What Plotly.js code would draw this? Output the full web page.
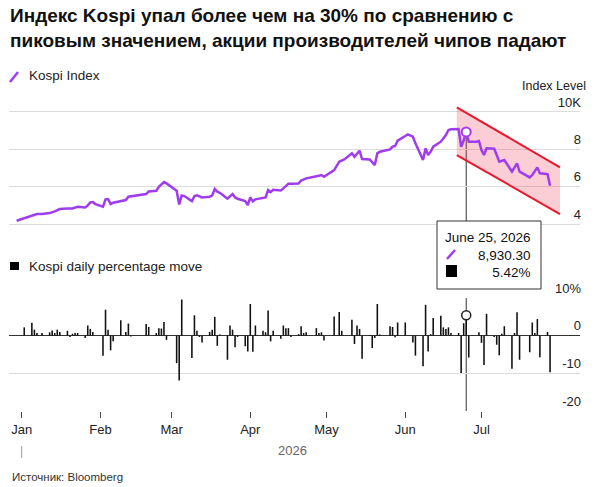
<!DOCTYPE html>
<html>
<head>
<meta charset="utf-8">
<script src="https://cdn.plot.ly/plotly-3.0.1.min.js"></script>
<style>
  body { margin: 0; background: #fff; }
  #chart { width: 614px; height: 487px; }
</style>
</head>
<body>
<div id="chart"></div>
<script>
// Kospi index level
const kospiDates = [
  '2025-12-30', '2026-01-02', '2026-01-06', '2026-01-07', '2026-01-09', '2026-01-12', '2026-01-14', '2026-01-16',
  '2026-01-19', '2026-01-21', '2026-01-23', '2026-01-26', '2026-01-27', '2026-01-28', '2026-01-29', '2026-01-30',
  '2026-02-02', '2026-02-03', '2026-02-04', '2026-02-05', '2026-02-06', '2026-02-09', '2026-02-11', '2026-02-12',
  '2026-02-13', '2026-02-19', '2026-02-20', '2026-02-23', '2026-02-24', '2026-02-25', '2026-02-26', '2026-02-27',
  '2026-03-03', '2026-03-04', '2026-03-05', '2026-03-06', '2026-03-09', '2026-03-10', '2026-03-11', '2026-03-13',
  '2026-03-16', '2026-03-17', '2026-03-18', '2026-03-19', '2026-03-20', '2026-03-23', '2026-03-24', '2026-03-25',
  '2026-03-26', '2026-03-27', '2026-03-30', '2026-03-31', '2026-04-01', '2026-04-02', '2026-04-03', '2026-04-07',
  '2026-04-08', '2026-04-09', '2026-04-10', '2026-04-13', '2026-04-14', '2026-04-15', '2026-04-16', '2026-04-17',
  '2026-04-20', '2026-04-21', '2026-04-23', '2026-04-28', '2026-04-29', '2026-04-30', '2026-05-04', '2026-05-06',
  '2026-05-08', '2026-05-11', '2026-05-12', '2026-05-14', '2026-05-15', '2026-05-18', '2026-05-19', '2026-05-20',
  '2026-05-21', '2026-05-22', '2026-05-26', '2026-05-27', '2026-05-28', '2026-05-29', '2026-06-01', '2026-06-02',
  '2026-06-04', '2026-06-05', '2026-06-08', '2026-06-09', '2026-06-10', '2026-06-11', '2026-06-12', '2026-06-15',
  '2026-06-17', '2026-06-18', '2026-06-19', '2026-06-22', '2026-06-23', '2026-06-24', '2026-06-25', '2026-06-26',
  '2026-06-29', '2026-06-30', '2026-07-01', '2026-07-02', '2026-07-03', '2026-07-06', '2026-07-07', '2026-07-08',
  '2026-07-10', '2026-07-13', '2026-07-15', '2026-07-16', '2026-07-20', '2026-07-21', '2026-07-23', '2026-07-24',
  '2026-07-27', '2026-07-28'
];
const kospiValues = [
  4174, 4299, 4478, 4531, 4531, 4585, 4674, 4799,
  4835, 4835, 4925, 4889, 4996, 5157, 5175, 5067,
  4925, 5318, 5335, 5067, 5139, 5246, 5282, 5461,
  5479, 5604, 5746, 5782, 5997, 6100, 6247, 6175,
  5782, 5050, 5532, 5496, 5228, 5496, 5532, 5425,
  5461, 5532, 5871, 5729, 5675, 5354, 5496, 5604,
  5425, 5354, 5228, 5014, 5425, 5211, 5318, 5425,
  5818, 5711, 5836, 5800, 5907, 6030, 6158, 6158,
  6175, 6330, 6443, 6586, 6622, 6533, 6890, 7337,
  7462, 7784, 7605, 7927, 7480, 7460, 7300, 7158,
  7784, 7873, 7998, 8141, 8177, 8463, 8713, 8802,
  8677, 8320, 7426, 8052, 7694, 7873, 8141, 8409,
  8767, 9035, 9070, 9088, 8141, 8470, 8930.30, 8409,
  8409, 8445, 7962, 7694, 8052, 8034, 7694, 7337,
  7426, 6801, 7248, 6801, 6497, 6622, 7033, 6712,
  6676, 6050
];

// Kospi daily percentage move
const moveDates = [
  '2026-01-02', '2026-01-05', '2026-01-06', '2026-01-07', '2026-01-09', '2026-01-12', '2026-01-13', '2026-01-14',
  '2026-01-15', '2026-01-16', '2026-01-19', '2026-01-20', '2026-01-21', '2026-01-22', '2026-01-23', '2026-01-26',
  '2026-01-27', '2026-01-28', '2026-01-29', '2026-02-02', '2026-02-03', '2026-02-04', '2026-02-05', '2026-02-06',
  '2026-02-09', '2026-02-11', '2026-02-12', '2026-02-13', '2026-02-19', '2026-02-20', '2026-02-23', '2026-02-24',
  '2026-02-25', '2026-02-26', '2026-02-27', '2026-03-03', '2026-03-04', '2026-03-05', '2026-03-09', '2026-03-10',
  '2026-03-11', '2026-03-12', '2026-03-13', '2026-03-16', '2026-03-17', '2026-03-18', '2026-03-19', '2026-03-20',
  '2026-03-23', '2026-03-24', '2026-03-25', '2026-03-26', '2026-03-27', '2026-03-30', '2026-03-31', '2026-04-01',
  '2026-04-02', '2026-04-03', '2026-04-06', '2026-04-07', '2026-04-08', '2026-04-09', '2026-04-10', '2026-04-13',
  '2026-04-14', '2026-04-15', '2026-04-16', '2026-04-17', '2026-04-20', '2026-04-21', '2026-04-22', '2026-04-23',
  '2026-04-27', '2026-04-28', '2026-04-29', '2026-04-30', '2026-05-04', '2026-05-06', '2026-05-07', '2026-05-11',
  '2026-05-12', '2026-05-13', '2026-05-14', '2026-05-15', '2026-05-18', '2026-05-19', '2026-05-20', '2026-05-21',
  '2026-05-22', '2026-05-26', '2026-05-27', '2026-05-28', '2026-05-29', '2026-06-01', '2026-06-04', '2026-06-05',
  '2026-06-08', '2026-06-09', '2026-06-10', '2026-06-11', '2026-06-12', '2026-06-15', '2026-06-16', '2026-06-17',
  '2026-06-18', '2026-06-19', '2026-06-22', '2026-06-23', '2026-06-24', '2026-06-25', '2026-06-26', '2026-06-30',
  '2026-07-01', '2026-07-02', '2026-07-03', '2026-07-06', '2026-07-07', '2026-07-08', '2026-07-09', '2026-07-10',
  '2026-07-13', '2026-07-14', '2026-07-15', '2026-07-16', '2026-07-20', '2026-07-21', '2026-07-22', '2026-07-23',
  '2026-07-24', '2026-07-27', '2026-07-28'
];
const moveValues = [
  2.2, 3.4, 1.6, 0.7, 0.7, 0.9, 1.4, 0.7,
  1.6, 1.0, 1.3, -0.35, 0.5, 0.7, 0.7, -0.6,
  2.7, 1.8, 1.0, -5.3, 6.9, 1.6, -3.9, -1.5,
  4.1, 1.0, 3.2, -0.2, 3.1, 2.3, 0.7, 2.0,
  1.9, 3.6, -1.1, -7.3, -11.9, 9.6, -5.9, 5.4,
  1.3, -0.35, -1.8, 1.0, 1.6, 5.0, -2.7, 0.3,
  -6.4, 2.7, 1.6, -3.1, -0.35, -2.8, -4.2, 8.4,
  -4.3, 2.7, 1.3, 0.9, 6.7, -1.5, 1.3, -0.8,
  2.7, 2.0, 2.0, -0.35, 0.4, 2.5, 0.7, 0.9,
  2.0, 0.7, 0.9, -1.3, 5.1, 6.3, 1.3, 4.2,
  -2.2, 2.7, 1.8, -6.1, 0.2, -3.3, -0.6, 8.4,
  0.3, 2.5, 2.3, -0.4, 3.5, 3.5, -1.8, -5.3,
  -8.1, 8.2, -4.2, 0.4, 4.7, 5.3, 2.2, 1.8,
  2.2, 0.7, 0.7, -9.9, 3.3, 5.42, -5.8, 0.9,
  -1.9, -7.8, 5.8, -0.35, -2.4, -5.2, 0.5, 2.5,
  -8.8, 0.7, 6.2, -6.4, -4.4, 3.5, 0.7, 4.4,
  -5.7, 1.0, -9.7
];

// falling channel drawn over the recent slide
const channelDates = ['2026-06-21 07:00', '2026-07-31 22:00'];
const channelUpper = [10252, 7036];
const channelLower = [7695, 4533];

// highlighted day
const hoverDate = '2026-06-25';
const hoverLabel = 'June 25, 2026';
const hoverLevel = 8930.30;
const hoverMove = 5.42;

const monthTicks = ['2026-01-01', '2026-02-01', '2026-03-01', '2026-04-01', '2026-05-01', '2026-06-01', '2026-07-01'];
const monthLabels = ['Jan', 'Feb', 'Mar', 'Apr', 'May', 'Jun', 'Jul'];
const levelTicks = [4000, 6000, 8000, 10000];
const levelLabels = ['4', '6', '8', '10K'];
const moveTicks = [-20, -10, 0, 10];
const moveLabels = ['-20', '-10', '0', '10%'];

const FONT = 'Liberation Sans, Arial, sans-serif';
const PURPLE = '#a03cf0';
const RED = '#e8192c';

// pixel -> paper helpers (figure 614x487, margins l=9 r=34 t=0 b=0)
const W = 614, H = 487, ML = 9, MR = 34;
function px(x) { return (x - ML) / (W - ML - MR); }
function py(y) { return 1 - y / H; }

const traces = [
  {
    x: channelDates, y: channelLower, xaxis: 'x2', yaxis: 'y',
    type: 'scatter', mode: 'lines', line: { color: RED, width: 2 }
  },
  {
    x: channelDates, y: channelUpper, xaxis: 'x2', yaxis: 'y',
    type: 'scatter', mode: 'lines', line: { color: RED, width: 2 },
    fill: 'tonexty', fillcolor: 'rgba(240,60,90,0.25)'
  },
  {
    x: kospiDates, y: kospiValues, xaxis: 'x2', yaxis: 'y',
    type: 'scatter', mode: 'lines', line: { color: PURPLE, width: 2.5 }
  },
  {
    x: [hoverDate], y: [hoverLevel], xaxis: 'x2', yaxis: 'y',
    type: 'scatter', mode: 'markers',
    marker: { size: 9, color: '#fff', line: { color: PURPLE, width: 2 } }
  },
  {
    x: moveDates, y: moveValues, xaxis: 'x', yaxis: 'y2',
    type: 'bar', marker: { color: '#111' }, width: 0.62 * 864e5
  },
  {
    x: [hoverDate], y: [hoverMove], xaxis: 'x', yaxis: 'y2',
    type: 'scatter', mode: 'markers',
    marker: { size: 9, color: '#fff', line: { color: '#222', width: 1.5 } }
  }
];

const xRange = ['2025-12-27', '2026-08-08 19:00'];

const layout = {
  width: W, height: H,
  margin: { l: ML, r: MR, t: 0, b: 0 },
  paper_bgcolor: '#fff', plot_bgcolor: 'rgba(0,0,0,0)',
  showlegend: false,
  font: { family: FONT, color: '#222', size: 13 },
  title: {
    text: 'Индекс Kospi упал более чем на 30% по сравнению с<br>пиковым значением, акции производителей чипов падают',
    font: { family: FONT, size: 19, color: '#111', weight: 'bold' },
    xref: 'container', x: 10 / W, xanchor: 'left',
    yref: 'container', y: 1 - 22 / H, yanchor: 'top'
  },
  xaxis: {
    type: 'date', anchor: 'y2', range: xRange,
    tickvals: monthTicks, ticktext: monthLabels,
    ticks: 'outside', ticklen: 6, tickcolor: '#444', tickwidth: 1,
    tickfont: { size: 13, color: '#222' },
    showgrid: false, zeroline: false, showline: false
  },
  xaxis2: {
    type: 'date', anchor: 'y', matches: 'x',
    showticklabels: false, ticks: '', showgrid: false, zeroline: false, showline: false
  },
  yaxis: {
    domain: [py(229), py(106)], range: [3732, 10321], anchor: 'x2', side: 'right',
    tickvals: levelTicks, ticktext: levelLabels,
    ticklabelposition: 'inside', ticklabelshift: -10, ticklabelstandoff: -4, ticklabeloverflow: 'allow',
    ticks: '', gridcolor: '#dcdcdc', gridwidth: 1, zeroline: false, showline: false,
    tickfont: { size: 13, color: '#222' }
  },
  yaxis2: {
    domain: [py(411), py(298)], range: [-20, 10], anchor: 'x', side: 'right',
    tickvals: moveTicks, ticktext: moveLabels,
    ticklabelposition: 'inside', ticklabelshift: -10, ticklabelstandoff: -4, ticklabeloverflow: 'allow',
    ticks: '', gridcolor: '#dcdcdc', gridwidth: 1,
    zeroline: true, zerolinecolor: '#333', zerolinewidth: 1, showline: false,
    tickfont: { size: 13, color: '#222' }
  },
  shapes: [
    // crosshair through the highlighted day
    { type: 'line', layer: 'below', xref: 'x2', yref: 'y', x0: hoverDate, x1: hoverDate, y0: hoverLevel, y1: 3732,
      line: { color: '#333', width: 1 } },
    { type: 'line', layer: 'below', xref: 'x', yref: 'y2 domain', x0: hoverDate, x1: hoverDate, y0: 0, y1: 1,
      line: { color: '#333', width: 1 } },
    // tooltip box and its keys
    { type: 'rect', xref: 'paper', yref: 'paper', x0: px(437), x1: px(541), y0: py(289), y1: py(221),
      fillcolor: '#fff', line: { color: '#333', width: 1 } },
    { type: 'line', xref: 'paper', yref: 'paper', x0: px(447), x1: px(455), y0: py(259), y1: py(250),
      line: { color: PURPLE, width: 2.5 } },
    { type: 'rect', xref: 'paper', yref: 'paper', x0: px(446), x1: px(457), y0: py(277), y1: py(265),
      fillcolor: '#000', line: { width: 0 } },
    // legend keys
    { type: 'line', xref: 'paper', yref: 'paper', x0: px(10), x1: px(18), y0: py(82), y1: py(72),
      line: { color: PURPLE, width: 2.5 } },
    { type: 'rect', xref: 'paper', yref: 'paper', x0: px(10), x1: px(19), y0: py(270), y1: py(262),
      fillcolor: '#000', line: { width: 0 } },
    // year marker under Jan
    { type: 'line', xref: 'x', yref: 'paper', x0: monthTicks[0], x1: monthTicks[0], y0: py(458), y1: py(446),
      line: { color: '#999', width: 1 } }
  ],
  annotations: [
    { text: 'Kospi Index', xref: 'paper', yref: 'paper', x: px(27), y: py(76), xanchor: 'left', yanchor: 'middle',
      showarrow: false, font: { size: 13.5, color: '#222' } },
    { text: 'Index Level', xref: 'paper', yref: 'paper', x: px(588), y: py(86), xanchor: 'right', yanchor: 'middle',
      showarrow: false, font: { size: 12.5, color: '#222' } },
    { text: 'Kospi daily percentage move', xref: 'paper', yref: 'paper', x: px(27), y: py(266), xanchor: 'left', yanchor: 'middle',
      showarrow: false, font: { size: 13.5, color: '#222' } },
    { text: '2026', xref: 'paper', yref: 'paper', x: px(292), y: py(450), xanchor: 'center', yanchor: 'middle',
      showarrow: false, font: { size: 13, color: '#666' } },
    { text: 'Источник: Bloomberg', xref: 'paper', yref: 'paper', x: px(10), y: py(477), xanchor: 'left', yanchor: 'middle',
      showarrow: false, font: { size: 11.5, color: '#333' } },
    { text: hoverLabel + '<br>' + hoverLevel.toLocaleString('en-US', { minimumFractionDigits: 2 }) + '<br>' + hoverMove.toFixed(2) + '%',
      xref: 'paper', yref: 'paper', x: px(533), y: py(228), xanchor: 'right', yanchor: 'top', align: 'right',
      showarrow: false, font: { size: 13.5, color: '#111' } }
  ]
};

Plotly.newPlot('chart', traces, layout, { displayModeBar: false, staticPlot: true });
</script>
</body>
</html>
